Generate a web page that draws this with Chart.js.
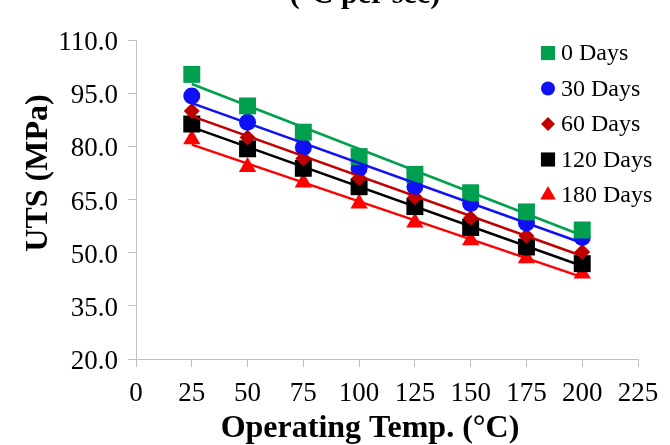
<!DOCTYPE html>
<html>
<head>
<meta charset="utf-8">
<script src="https://cdn.jsdelivr.net/npm/chart.js@4/dist/chart.umd.min.js"></script>
<style>
  html, body { margin: 0; padding: 0; background: #fff; }
  #wrap { width: 670px; height: 445px; }
</style>
</head>
<body>
<div id="wrap"><canvas id="utsChart" width="670" height="445"></canvas></div>
<script>
// data
const temps = [25, 50, 75, 100, 125, 150, 175, 200];
const uts0 = [100.3, 91.4, 84.0, 77.1, 72.1, 66.9, 61.5, 56.4];
const uts30 = [94.2, 86.8, 79.7, 73.8, 68.6, 63.9, 58.4, 54.3];
const uts60 = [90.0, 82.5, 76.6, 71.0, 65.6, 59.7, 54.7, 50.2];
const uts120 = [86.3, 79.3, 73.8, 68.6, 63.0, 57.1, 51.6, 46.9];
const uts180 = [82.0, 74.2, 69.8, 63.9, 58.5, 53.5, 48.4, 44.1];
const seriesNames = ['0 Days', '30 Days', '60 Days', '120 Days', '180 Days'];
const yTicks = [20, 35, 50, 65, 80, 95, 110];
const xTicks = [0, 25, 50, 75, 100, 125, 150, 175, 200, 225];

const chartTitle = '(\u00B0C per sec)';
const xTitle = 'Operating Temp. (\u00B0C)';
const yTitle = 'UTS (MPa)';

const allSeries = [uts0, uts30, uts60, uts120, uts180];
const colors = ['#00A04F', '#1010F5', '#C00000', '#000000', '#FF0000'];
const styles = ['rect', 'circle', 'rectRot', 'rect', 'triangle'];
const radii = [12, 8.5, 8, 12, 10];
const legendRadii = [10, 7, 7, 10, 9];

const SERIF = '"Liberation Serif", "Times New Roman", serif';

// least squares line for the trendlines
function fitLine(xs, ys) {
  const n = xs.length;
  const mx = xs.reduce((a, b) => a + b, 0) / n;
  const my = ys.reduce((a, b) => a + b, 0) / n;
  let num = 0, den = 0;
  for (let i = 0; i < n; i++) {
    num += (xs[i] - mx) * (ys[i] - my);
    den += (xs[i] - mx) * (xs[i] - mx);
  }
  const m = num / den;
  return x => my + m * (x - mx);
}

const datasets = [];
allSeries.forEach((vals, i) => {
  datasets.push({
    type: 'scatter',
    label: seriesNames[i],
    data: temps.map((t, j) => ({ x: t, y: vals[j] })),
    pointStyle: styles[i],
    pointRadius: radii[i],
    pointBackgroundColor: colors[i],
    pointBorderWidth: 0,
    showLine: false,
    order: 2
  });
  const f = fitLine(temps, vals);
  const x0 = temps[0], x1 = temps[temps.length - 1];
  datasets.push({
    type: 'line',
    label: seriesNames[i] + ' fit',
    data: [{ x: x0, y: f(x0) }, { x: x1, y: f(x1) }],
    borderColor: colors[i],
    borderWidth: 2.5,
    pointRadius: 0,
    fill: false,
    order: 1
  });
});

function drawMarker(ctx, style, r, x, y) {
  ctx.beginPath();
  if (style === 'rect') {
    const s = r * Math.SQRT1_2;
    ctx.rect(x - s, y - s, 2 * s, 2 * s);
  } else if (style === 'circle') {
    ctx.arc(x, y, r, 0, Math.PI * 2);
  } else if (style === 'rectRot') {
    ctx.moveTo(x - r, y); ctx.lineTo(x, y - r); ctx.lineTo(x + r, y); ctx.lineTo(x, y + r);
    ctx.closePath();
  } else if (style === 'triangle') {
    ctx.moveTo(x, y - r);
    ctx.lineTo(x + r * Math.sin(2 * Math.PI / 3), y - r * Math.cos(2 * Math.PI / 3));
    ctx.lineTo(x + r * Math.sin(4 * Math.PI / 3), y - r * Math.cos(4 * Math.PI / 3));
    ctx.closePath();
  }
  ctx.fill();
}

const extraText = {
  id: 'extraText',
  afterDraw(chart) {
    const ctx = chart.ctx;
    ctx.save();
    ctx.fillStyle = '#000';
    ctx.textAlign = 'center';
    ctx.textBaseline = 'alphabetic';
    ctx.font = 'bold 30px ' + SERIF;
    ctx.fillText(chartTitle, 365, 3);
    ctx.font = 'bold 32px ' + SERIF;
    ctx.fillText(xTitle, 370, 437);
    ctx.save();
    ctx.translate(47, 173);
    ctx.rotate(-Math.PI / 2);
    ctx.fillText(yTitle, 0, 0);
    ctx.restore();

    // legend inside the plot, top right
    ctx.textAlign = 'left';
    ctx.textBaseline = 'middle';
    ctx.font = '24px ' + SERIF;
    seriesNames.forEach((name, i) => {
      const y = 53 + i * 35.5;
      ctx.fillStyle = colors[i];
      drawMarker(ctx, styles[i], legendRadii[i], 548, y);
      ctx.fillStyle = '#000';
      ctx.fillText(name, 561, y + 1);
    });
    ctx.restore();
  }
};

function buildChart() {
  const axisGray = '#BFBFBF';
  const ctx = document.getElementById('utsChart').getContext('2d');
  new Chart(ctx, {
    data: { datasets: datasets },
    options: {
      responsive: false,
      animation: false,
      layout: { padding: { top: 40, right: 32, left: 0, bottom: 0 } },
      plugins: {
        legend: { display: false },
        tooltip: { enabled: false }
      },
      scales: {
        x: {
          type: 'linear',
          min: 0,
          max: 225,
          afterBuildTicks: s => { s.ticks = xTicks.map(v => ({ value: v })); },
          afterFit: s => { s.height = 86; },
          ticks: {
            color: '#000',
            font: { family: SERIF, size: 27 },
            padding: 11,
            maxRotation: 0
          },
          grid: { drawOnChartArea: false, tickLength: 8, color: axisGray },
          border: { color: axisGray, width: 1 }
        },
        y: {
          min: 20,
          max: 110,
          afterBuildTicks: s => { s.ticks = yTicks.map(v => ({ value: v })); },
          afterFit: s => { s.width = 136; },
          ticks: {
            color: '#000',
            font: { family: SERIF, size: 27 },
            padding: 10,
            labelOffset: 3,
            callback: v => v.toFixed(1)
          },
          grid: { drawOnChartArea: false, tickLength: 8, color: axisGray },
          border: { color: axisGray, width: 1 }
        }
      }
    },
    plugins: [extraText]
  });
}

Promise.all([
  document.fonts.load('27px "Liberation Serif"'),
  document.fonts.load('bold 32px "Liberation Serif"')
]).then(buildChart, buildChart);
</script>
</body>
</html>
